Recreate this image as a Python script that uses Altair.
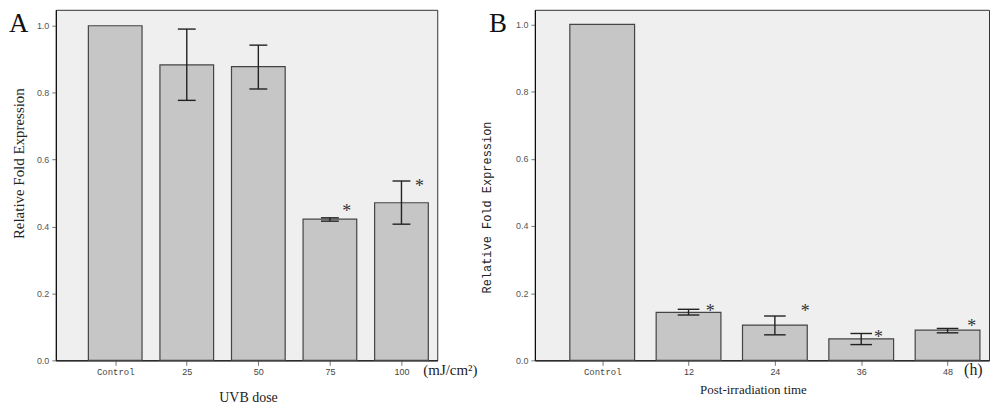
import json
import pandas as pd
import altair as alt

# ---------------- data ----------------
a_categories = ["Control", "25", "50", "75", "100"]
a_means = [1.0, 0.883, 0.878, 0.422, 0.471]
a_lower = [None, 0.777, 0.811, 0.416, 0.407]
a_upper = [None, 0.990, 0.942, 0.426, 0.536]
a_star_index = [3, 4]
a_star_y = [0.458, 0.533]
a_star_dx = [0.235, 0.25]

b_categories = ["Control", "12", "24", "36", "48"]
b_means = [1.0, 0.143, 0.105, 0.064, 0.090]
b_lower = [None, 0.135, 0.076, 0.047, 0.082]
b_upper = [None, 0.152, 0.132, 0.080, 0.095]
b_star_index = [1, 2, 3, 4]
b_star_y = [0.159, 0.159, 0.082, 0.113]
b_star_dx = [0.25, 0.35, 0.2, 0.28]

y_ticks = [0.0, 0.2, 0.4, 0.6, 0.8, 1.0]

SERIF = "Liberation Serif"
SANS = "Liberation Sans"
MONO = "Liberation Mono"
BAR_FILL = "#c6c6c6"
BAR_STROKE = "#444444"
ERR = "#222222"


def panel(letter, cats, means, lower, upper, s_idx, s_y, s_dx, unit, xtitle,
          ytitle, width, height, xdom, ydom, ytitle_font, ytitle_size,
          ytitle_pad, ytitle_y, xtitle_size, xtitle_pad, xtitle_x, unit_x,
          unit_size, letter_x):
    df = pd.DataFrame({"i": list(range(len(cats))), "cat": cats,
                       "mean": means, "lo": lower, "hi": upper})
    xs = alt.Scale(domain=xdom, nice=False, zero=False)
    ys = alt.Scale(domain=ydom, nice=False, zero=True)
    label_expr = json.dumps(cats) + "[datum.value]"
    xax = alt.Axis(
        values=list(range(len(cats))), labelExpr=label_expr, title=xtitle,
        grid=False, tickSize=5, tickColor="#777", domainColor="#000",
        labelFont={"condition": {"test": "datum.value == 0", "value": MONO},
                   "value": SANS},
        labelFontSize=9, labelColor="#444", labelPadding=2,
        titleFont=SERIF, titleFontSize=xtitle_size, titleFontWeight="normal",
        titleColor="#222", titlePadding=xtitle_pad, titleX=xtitle_x,
        labelFlush=False)
    yax = alt.Axis(
        values=y_ticks, format=".1f", title=ytitle, grid=False, tickSize=4,
        tickColor="#777", domainColor="#000", labelFont=SANS,
        labelFontSize=9, labelColor="#555", labelPadding=3,
        titleFont=ytitle_font, titleFontSize=ytitle_size,
        titleFontWeight="normal", titleColor="#222",
        titlePadding=ytitle_pad, titleY=ytitle_y)
    base = alt.Chart(df)

    bars = base.transform_calculate(
        xa="datum.i - 0.375", xb="datum.i + 0.375"
    ).mark_rect(fill=BAR_FILL, stroke=BAR_STROKE, strokeWidth=1.2).encode(
        x=alt.X("xa:Q", scale=xs, axis=xax),
        x2="xb:Q",
        y=alt.Y("mean:Q", scale=ys, axis=yax),
        y2=alt.datum(0),
    )

    err = base.transform_filter("isValid(datum.hi)").mark_rule(
        color=ERR, strokeWidth=1.4).encode(
        x=alt.X("i:Q", scale=xs, axis=xax),
        y=alt.Y("lo:Q", scale=ys, axis=yax),
        y2="hi:Q",
    )

    caps = base.transform_filter("isValid(datum.hi)").transform_fold(
        ["lo", "hi"], as_=["k", "v"]
    ).transform_calculate(
        c1="datum.i - 0.125", c2="datum.i + 0.125"
    ).mark_rule(color=ERR, strokeWidth=1.4).encode(
        x=alt.X("c1:Q", scale=xs, axis=xax),
        x2="c2:Q",
        y=alt.Y("v:Q", scale=ys, axis=yax),
    )

    sdf = pd.DataFrame({"i": s_idx, "y": s_y, "dx": s_dx,
                        "t": ["*"] * len(s_idx)})
    stars = alt.Chart(sdf).transform_calculate(
        sx="datum.i + datum.dx"
    ).mark_text(font=SERIF, fontSize=18, fill="#333", baseline="middle",
                dy=5).encode(
        x=alt.X("sx:Q", scale=xs, axis=xax),
        y=alt.Y("y:Q", scale=ys, axis=yax),
        text="t:N",
    )

    unit_txt = alt.Chart(pd.DataFrame({"t": [unit]})).mark_text(
        font=SERIF, fontSize=unit_size, fill="#222", align="left",
        baseline="middle").encode(
        text="t:N", x=alt.value(unit_x), y=alt.value(height + 10))

    letter_txt = alt.Chart(pd.DataFrame({"t": [letter]})).mark_text(
        font=SERIF, fontSize=27, fill="#111", align="left",
        baseline="top").encode(
        text="t:N", x=alt.value(letter_x), y=alt.value(1))

    return alt.layer(bars, err, caps, stars, unit_txt, letter_txt).properties(
        width=width, height=height)


chart_a = panel("A", a_categories, a_means, a_lower, a_upper, a_star_index,
                a_star_y, a_star_dx, "(mJ/cm²)", "UVB dose",
                "Relative Fold Expression", 383, 352, [-0.83, 4.5],
                [0, 352 / 336], SERIF, 15, 10, 154, 14, 14, 193, 369, 15, -47)

chart_b = panel("B", b_categories, b_means, b_lower, b_upper, b_star_index,
                b_star_y, b_star_dx, "(h)", "Post-irradiation time",
                "Relative Fold Expression", 456, 352, [-0.78, 4.48],
                [0, 352 / 337.4], MONO, 12, 22, 198, 13, 7, 219, 431, 16, -46)

chart = alt.hconcat(chart_a, chart_b, spacing=98, bounds="flush").properties(
    padding={"left": 0, "top": 0, "right": 0, "bottom": 0},
    background="white",
).configure_view(fill="#efefef", stroke="#333", strokeWidth=1)

chart.save("out.html", embed_options={"renderer": "svg", "actions": False})
